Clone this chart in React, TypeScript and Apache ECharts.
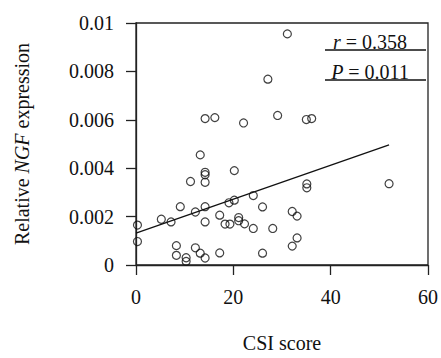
import React, { useEffect, useRef } from "react";
import * as echarts from "echarts";

const csiScore = [
  14.2, 16.2, 22.1, 27.1, 29.1, 31.1, 35.0, 36.1,
  0.3, 0.3, 5.2, 7.2, 9.1, 8.3, 8.3, 10.3, 10.3, 12.2, 12.2, 13.2,
  14.2, 13.2, 11.2, 14.2, 14.2, 14.2, 14.2, 14.2, 17.2, 18.3, 19.3,
  17.2, 20.2, 19.1, 20.2, 21.1, 21.1, 22.3, 24.1, 24.1, 26.0, 26.0,
  28.1, 32.1, 33.1, 33.1, 32.1, 35.1, 35.1, 52.0,
];
const ngfExpression = [
  0.00605, 0.00609, 0.00587, 0.00768, 0.00618, 0.00955, 0.00601, 0.00605,
  0.00165, 0.00097, 0.00189, 0.00178, 0.00241, 0.0008, 0.0004, 0.0003, 0.00015, 0.00219, 0.00071, 0.00049,
  0.00029, 0.00455, 0.00345, 0.00383, 0.00373, 0.00342, 0.00241, 0.00178, 0.00206, 0.00169, 0.00169,
  0.0005, 0.0039, 0.00257, 0.00268, 0.00196, 0.00183, 0.0017, 0.00287, 0.00151, 0.0024, 0.00049,
  0.00151, 0.00221, 0.00202, 0.00112, 0.00078, 0.00335, 0.00319, 0.00336,
];
const fitStartX = 0;
const fitEndX = 52;
const fitIntercept = 0.00132;
const fitSlope = 0.00007;
const rText = "0.358";
const pText = "0.011";
const xTicks = [0, 20, 40, 60];
const yTicks = [0, 0.002, 0.004, 0.006, 0.008, 0.01];

const FONT = "Liberation Serif";
const FS = 20;

export default function App() {
  const ref = useRef<HTMLDivElement>(null);
  useEffect(() => {
    const chart = echarts.init(ref.current!, null, { renderer: "svg" });
    const points = csiScore.map((x, i) => [x, ngfExpression[i]]);
    const fit = [
      [fitStartX, fitIntercept + fitSlope * fitStartX],
      [fitEndX, fitIntercept + fitSlope * fitEndX],
    ];
    const axisLine = { show: true, lineStyle: { color: "#222", width: 1.3 } };
    const richText = {
      i: { fontStyle: "italic", fontFamily: FONT, fontSize: FS, fill: "#111", color: "#111" },
      n: { fontFamily: FONT, fontSize: FS, fill: "#111", color: "#111" },
    };
    chart.setOption({
      animation: false,
      backgroundColor: "#fff",
      textStyle: { fontFamily: FONT, fontSize: FS },
      grid: {
        left: 136,
        right: 9,
        top: 23,
        bottom: 90,
        show: true,
        borderColor: "#222",
        borderWidth: 1.3,
      },
      xAxis: {
        type: "value",
        min: xTicks[0],
        max: xTicks[xTicks.length - 1],
        interval: xTicks[1] - xTicks[0],
        axisLine,
        axisTick: { show: true, inside: false, length: 10, lineStyle: { color: "#222", width: 1.3 } },
        splitLine: { show: false },
        axisLabel: {
          color: "#111",
          fontFamily: FONT,
          fontSize: FS,
          margin: 22,
          formatter: (v: number) => "{n|" + String(v) + "}",
          rich: richText,
        },
        name: "CSI score",
        nameLocation: "middle",
        nameGap: 68,
        nameTextStyle: { color: "#111", fontFamily: FONT, fontSize: FS },
      },
      yAxis: {
        type: "value",
        min: yTicks[0],
        max: yTicks[yTicks.length - 1],
        interval: yTicks[1] - yTicks[0],
        axisLine,
        axisTick: { show: true, inside: false, length: 10, lineStyle: { color: "#222", width: 1.3 } },
        splitLine: { show: false },
        axisLabel: {
          color: "#111",
          fontFamily: FONT,
          fontSize: FS,
          margin: 22,
          formatter: (v: number) => "{n|" + String(+v.toFixed(4)) + "}",
          rich: richText,
        },
        name: "{n|Relative }{i|NGF}{n| expression}",
        nameLocation: "middle",
        nameGap: 104,
        nameTextStyle: {
          color: "#111",
          fontFamily: FONT,
          fontSize: FS,
          rich: richText,
        },
      },
      series: [
        {
          type: "scatter",
          data: points,
          symbol: "circle",
          symbolSize: 8,
          itemStyle: { color: "rgba(255,255,255,0)", borderColor: "#111", borderWidth: 1.2 },
          z: 3,
        },
        {
          type: "line",
          data: fit,
          showSymbol: false,
          symbol: "none",
          lineStyle: { color: "#111", width: 1.3 },
          z: 2,
        },
      ],
      graphic: [
        {
          type: "text",
          x: 370,
          y: 42,
          style: {
            text: "{i|r}{n| = " + rText + "}",
            fontFamily: FONT,
            fontSize: FS,
            fill: "#111",
            align: "center",
            verticalAlign: "middle",
            rich: richText,
          },
        },
        {
          type: "line",
          shape: { x1: 325, y1: 50, x2: 426, y2: 50 },
          style: { stroke: "#111", lineWidth: 1.5 },
        },
        {
          type: "text",
          x: 370,
          y: 72,
          style: {
            text: "{i|P}{n| = " + pText + "}",
            fontFamily: FONT,
            fontSize: FS,
            fill: "#111",
            align: "center",
            verticalAlign: "middle",
            rich: richText,
          },
        },
        {
          type: "line",
          shape: { x1: 325, y1: 80, x2: 426, y2: 80 },
          style: { stroke: "#111", lineWidth: 1.5 },
        },
      ],
    });
    return () => chart.dispose();
  }, []);
  return <div ref={ref} style={{ width: 441, height: 358, position: "absolute", left: 0, top: 0 }} />;
}
